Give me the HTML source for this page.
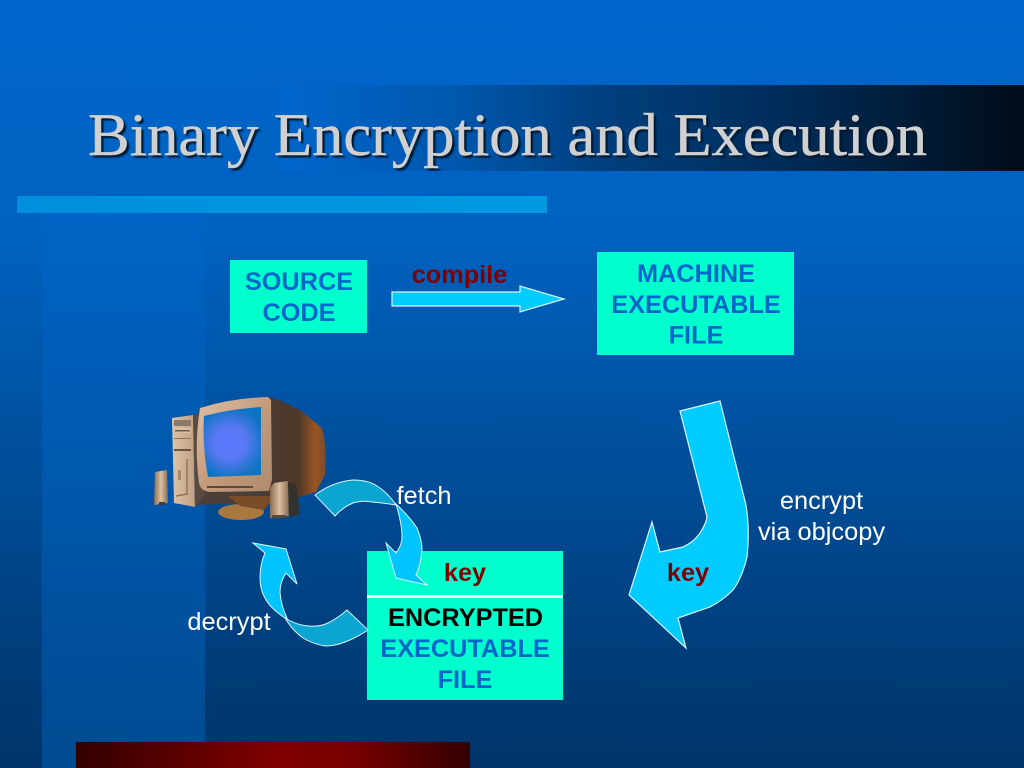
<!DOCTYPE html>
<html><head><meta charset="utf-8"><style>
html,body{margin:0;padding:0;width:1024px;height:768px;overflow:hidden;background:#036}
svg{display:block}
</style></head><body>
<svg xmlns="http://www.w3.org/2000/svg" width="1024" height="768" viewBox="0 0 1024 768">
<defs>
<linearGradient id="bg" x1="0" y1="0" x2="0" y2="1"><stop offset="0" stop-color="#0066cc"/><stop offset=".3" stop-color="#0062c0"/><stop offset="1" stop-color="#003468"/></linearGradient>
<linearGradient id="band" x1="0" y1="0" x2="0" y2="1"><stop offset="0" stop-color="#0064c6"/><stop offset="1" stop-color="#004a90"/></linearGradient>
<linearGradient id="bar" gradientUnits="userSpaceOnUse" x1="280" y1="0" x2="1024" y2="0"><stop offset="0" stop-color="#0066cc"/><stop offset=".23" stop-color="#0058ae"/><stop offset=".43" stop-color="#00407f"/><stop offset=".7" stop-color="#002a55"/><stop offset="1" stop-color="#000c18"/></linearGradient>
<linearGradient id="red" x1="0" y1="0" x2="1" y2="0"><stop offset="0" stop-color="#330000"/><stop offset=".5" stop-color="#800000"/><stop offset=".7" stop-color="#780000"/><stop offset="1" stop-color="#330000"/></linearGradient>
<linearGradient id="strip" x1="0" y1="0" x2="1" y2="0"><stop offset="0" stop-color="#008fdc"/><stop offset="1" stop-color="#0099e0"/></linearGradient>
<radialGradient id="scr" gradientUnits="userSpaceOnUse" cx="230" cy="443" r="36"><stop offset="0" stop-color="#5a78ff"/><stop offset=".45" stop-color="#5a78f4"/><stop offset="1" stop-color="#0c74c0"/></radialGradient>
<linearGradient id="bez" x1="0" y1="0" x2="1" y2="1"><stop offset="0" stop-color="#e0c0a4"/><stop offset=".5" stop-color="#c49c7c"/><stop offset="1" stop-color="#b08a6a"/></linearGradient>
<linearGradient id="back" gradientUnits="userSpaceOnUse" x1="272" y1="0" x2="326" y2="0"><stop offset="0" stop-color="#4a3a30"/><stop offset=".5" stop-color="#503828"/><stop offset=".8" stop-color="#9a5424"/><stop offset="1" stop-color="#7a4c2c"/></linearGradient>
<linearGradient id="spk" x1="0" y1="0" x2="1" y2="0"><stop offset="0" stop-color="#8c6c50"/><stop offset=".5" stop-color="#dcc0a4"/><stop offset="1" stop-color="#8c6c50"/></linearGradient>
<linearGradient id="tow" x1="0" y1="0" x2="1" y2="0"><stop offset="0" stop-color="#dcc4a8"/><stop offset="1" stop-color="#c0a084"/></linearGradient>
<filter id="sh" x="-5%" y="-20%" width="110%" height="140%"><feGaussianBlur stdDeviation="0.8"/></filter>
</defs>

<rect width="1024" height="768" fill="url(#bg)"/>
<rect x="42" y="213" width="163" height="555" fill="url(#band)"/>
<rect x="280" y="85" width="744" height="86" fill="url(#bar)"/>
<rect x="17" y="196" width="530" height="17" fill="url(#strip)"/>
<rect x="76" y="742" width="394" height="26" fill="url(#red)"/>

<g font-family="'Liberation Serif',serif" font-size="60.5">
<text x="90.5" y="157.5" fill="#04162c" filter="url(#sh)" textLength="839" lengthAdjust="spacingAndGlyphs">Binary Encryption and Execution</text>
<text x="88" y="155" fill="#d0d0d0" stroke="#d0d0d0" stroke-width=".5" textLength="839" lengthAdjust="spacingAndGlyphs">Binary Encryption and Execution</text>
</g>

<!-- boxes -->
<rect x="230" y="260" width="137" height="73" fill="#00ffcc"/>
<rect x="597" y="252" width="197" height="103" fill="#00ffcc"/>
<rect x="367" y="551" width="196" height="149" fill="#00ffcc"/>
<rect x="367" y="595" width="196" height="3" fill="#e8fff8"/>

<!-- compile arrow -->
<polygon points="392,292 520,292 520,286 564,299 520,312 520,306 392,306" fill="#00ccff" stroke="#d8f4ff" stroke-width="1.2"/>

<!-- big arrow -->
<path d="M680,411 L720,401 L746,505 Q750,530 747,557 Q742,578 733,590 Q722,601 710,607 L678,618 L686,648 L629,595 L652,522 L660,552 L683,547 Q694,542 700,533 Q706,524 707,517 Z" fill="#00ccff" stroke="#d8f4ff" stroke-width="1.2"/>

<!-- computer -->
<g>
<!-- stand -->
<polygon points="195,505 205,490 272,492 272,502 225,504" fill="#4a3f38"/>
<ellipse cx="241" cy="512" rx="23" ry="8" fill="#a8783f"/>
<polygon points="228,496 275,496 264,510 240,506" fill="#7a4c28"/>
<!-- monitor back -->
<path d="M268,397 L279,400 L300,410 L322,428 Q327,445 325,475 L316,492 L290,500 L262,494 L268,400 Z" fill="url(#back)"/>
<!-- tower -->
<polygon points="172,418 193,415 195,507 174,503" fill="url(#tow)"/>
<polygon points="193,415 199,413 205,495 195,507" fill="#5a4a40"/>
<rect x="174" y="420" width="17" height="6" fill="#8c7a68"/>
<rect x="174" y="428" width="17" height="5" fill="#d8c0a8"/><rect x="175" y="430" width="15" height="1.5" fill="#6c5a4c"/>
<rect x="174" y="438" width="17" height="1" fill="#8c7058"/><rect x="174" y="449" width="17" height="2" fill="#6c5444"/>
<path d="M187,459 L187,494 L176,496" fill="none" stroke="#8c7058" stroke-width="1.4"/>
<rect x="178" y="470" width="3" height="10" fill="#a88a70"/>
<!-- left speaker -->
<polygon points="155,472 167,470 168,503 154,505" fill="url(#spk)"/>
<rect x="159" y="502" width="6" height="3" fill="#3a3a44"/>
<!-- bezel -->
<path d="M200,408 Q232,398 268,397 L271,400 L272,480 L269,491 L209,492 Q200,490 199,483 Q194,445 200,408 Z" fill="url(#bez)"/>
<rect x="207" y="486" width="46" height="2" fill="#5a4a3e"/>
<!-- screen -->
<path d="M204,416 Q230,409 261,407 L261,475 L208,477 Q202,445 204,416 Z" fill="url(#scr)"/>
<!-- right speaker -->
<polygon points="270,488 274,483 288,481 289,516 270,518" fill="url(#spk)"/>
<polygon points="288,482 296,484 300,514 289,518" fill="#34322e"/>
<rect x="272" y="515" width="14" height="3" fill="#5a4838"/>
</g>

<!-- fetch arrow -->
<path d="M315,495 Q332,482 353,480 Q368,480 377,486 Q388,493 396,505 Q385,503 372,502 Q362,500 353,503 Q343,507 335,516 Z" fill="#0aa5d0" stroke="#d8f4ff" stroke-width="1"/>
<path d="M396,504 Q410,517 417,528 Q422,540 422,550 Q421,564 416,575 L427,585 L396,578 L386,543 L396,553 Q402,545 402,537 Q402,524 396,504 Z" fill="#00c4ff" stroke="#d8f4ff" stroke-width="1"/>

<!-- decrypt arrow -->
<path d="M285,618 Q296,625 308,626 Q320,627 328,623 Q338,618 347,610 L368,630 Q356,638 345,642 Q335,646 325,646 Q313,644 303,638 Q292,630 285,618 Z" fill="#0aa5d0" stroke="#d8f4ff" stroke-width="1"/>
<path d="M285,618 Q270,608 265,598 Q260,590 260,578 Q260,564 265,553 L253,543 L286,549 L297,584 L286,573 Q280,582 280,592 Q281,606 287,618 Z" fill="#00c4ff" stroke="#d8f4ff" stroke-width="1"/>

<!-- labels -->
<g font-family="'Liberation Sans',sans-serif" font-weight="bold" font-size="25.3" text-anchor="middle">
<text x="299" y="290" fill="#0066cc">SOURCE</text>
<text x="299" y="321" fill="#0066cc">CODE</text>
<text x="696" y="282" fill="#0066cc">MACHINE</text>
<text x="696" y="313" fill="#0066cc">EXECUTABLE</text>
<text x="696" y="343.5" fill="#0066cc">FILE</text>
<text x="459.5" y="283" fill="#800000">compile</text>
<text x="465" y="581" fill="#800000">key</text>
<text x="688" y="581" fill="#800000">key</text>
<text x="465.5" y="626" fill="#000000">ENCRYPTED</text>
<text x="465" y="657" fill="#0066cc">EXECUTABLE</text>
<text x="465" y="688" fill="#0066cc">FILE</text>
</g>
<g font-family="'Liberation Sans',sans-serif" font-size="25.4" fill="#ffffff" text-anchor="middle">
<text x="424" y="504">fetch</text>
<text x="229" y="630">decrypt</text>
<text x="821.5" y="509">encrypt</text>
<text x="821.5" y="540">via objcopy</text>
</g>
</svg>
</body></html>
